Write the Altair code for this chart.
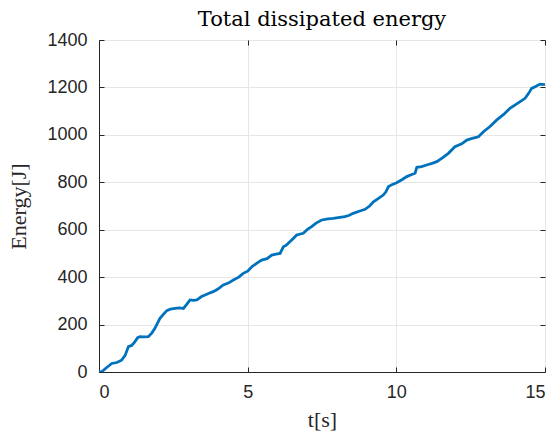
import altair as alt
import pandas as pd

t = [0, 0.1, 0.25, 0.43, 0.6, 0.76, 0.88, 0.99, 1.1, 1.21, 1.3, 1.38, 1.5, 1.66, 1.78, 1.88,
     2.05, 2.18, 2.28, 2.4, 2.56, 2.7, 2.84, 2.95, 3.06, 3.18, 3.29, 3.45, 3.57, 3.7, 3.84,
     4.0, 4.18, 4.35, 4.52, 4.7, 4.85, 5.0, 5.14, 5.3, 5.47, 5.65, 5.81, 5.95, 6.09, 6.2,
     6.3, 6.42, 6.55, 6.65, 6.87, 7.0, 7.15, 7.3, 7.49, 7.7, 7.88, 8.1, 8.27, 8.4, 8.55,
     8.75, 8.95, 9.1, 9.23, 9.4, 9.56, 9.65, 9.73, 9.85, 10.01, 10.2, 10.35, 10.5, 10.63,
     10.69, 10.85, 11.02, 11.2, 11.36, 11.55, 11.75, 11.97, 12.2, 12.37, 12.55, 12.76,
     12.93, 13.15, 13.38, 13.6, 13.82, 14.1, 14.33, 14.45, 14.55, 14.7, 14.83, 15.0]
energy = [0, 2, 18, 36, 40, 50, 70, 107, 112, 128, 145, 149, 148, 149, 165, 184,
          226, 245, 259, 265, 268, 270, 268, 285, 304, 302, 304, 318, 325, 332, 339,
          350, 367, 375, 388, 400, 416, 425, 444, 458, 472, 478, 493, 497, 500, 528,
          535, 549, 565, 578, 585, 600, 613, 628, 641, 646, 648, 652, 655, 660, 669,
          678, 686, 700, 718, 732, 746, 760, 781, 790, 798, 812, 824, 832, 838,
          863, 866, 873, 880, 887, 903, 922, 950, 962, 978, 985, 992,
          1013, 1035, 1063, 1085, 1112, 1135, 1154, 1175, 1196, 1205, 1214, 1212]

x_ticks = [0, 5, 10, 15]
y_ticks = [0, 200, 400, 600, 800, 1000, 1200, 1400]

df = pd.DataFrame({"t": t, "E": energy})

W, H = 446, 332
AX = "#262626"
serif = "Liberation Serif"
sans = "Liberation Sans"

xs = alt.Scale(domain=[0, 15], nice=False)
ys = alt.Scale(domain=[0, 1400], nice=False)

base = alt.Chart(df)

main = base.mark_line(color="#0072BD", strokeWidth=2.8, clip=True).encode(
    x=alt.X("t:Q", scale=xs, title="t[s]",
            axis=alt.Axis(values=x_ticks, orient="bottom", ticks=False, grid=True,
                          format="d",
                          gridColor="#e6e6e6", domainColor=AX, labelColor=AX,
                          labelFont=sans, labelFontSize=18, labelPadding=11,
                          titleFont=serif, titleFontSize=22, titleFontWeight="normal",
                          titleColor=AX, titlePadding=8)),
    y=alt.Y("E:Q", scale=ys, title="Energy[J]",
            axis=alt.Axis(values=y_ticks, orient="left", ticks=False, grid=True,
                          format="d",
                          gridColor="#e6e6e6", domainColor=AX, labelColor=AX,
                          labelFont=sans, labelFontSize=18, labelPadding=12,
                          titleFont=serif, titleFontSize=22, titleFontWeight="normal",
                          titleColor=AX, titlePadding=16)),
)

ticks_a = base.mark_line(opacity=0).encode(
    x=alt.X("t:Q", scale=xs,
            axis=alt.Axis(values=x_ticks, orient="top", offset=-H, labels=False,
                          domain=False, grid=False, tickSize=5, tickColor=AX, title=None)),
    y=alt.Y("E:Q", scale=ys,
            axis=alt.Axis(values=y_ticks, orient="right", offset=-W, labels=False,
                          domain=False, grid=False, tickSize=5, tickColor=AX, title=None)),
)

ticks_b = base.mark_line(opacity=0).encode(
    x=alt.X("t:Q", scale=xs,
            axis=alt.Axis(values=x_ticks, orient="bottom", offset=-H, labels=False,
                          domain=False, grid=False, tickSize=5, tickColor=AX, title=None)),
    y=alt.Y("E:Q", scale=ys,
            axis=alt.Axis(values=y_ticks, orient="left", offset=-W, labels=False,
                          domain=False, grid=False, tickSize=5, tickColor=AX, title=None)),
)

chart = alt.layer(main, ticks_a, ticks_b).resolve_axis(
    x="independent", y="independent"
).properties(
    width=W, height=H,
    title=alt.TitleParams("Total dissipated energy", font="DejaVu Serif", fontSize=21,
                          fontWeight="normal", color="#000000", anchor="middle",
                          offset=1),
    autosize=alt.AutoSizeParams(type="none"),
    padding={"left": 91, "top": 32, "right": 3, "bottom": 59},
).configure_view(stroke=AX, strokeWidth=1).configure(background="white")

chart.save("out.html", embed_options={"renderer": "svg", "actions": False})
